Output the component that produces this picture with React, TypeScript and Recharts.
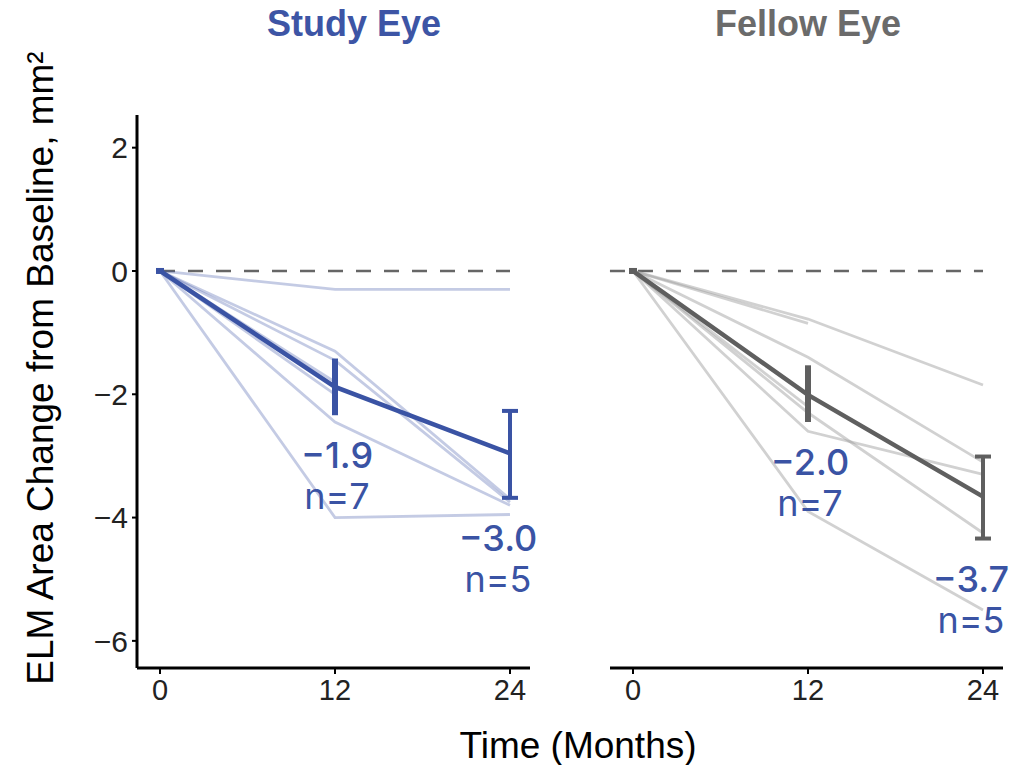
import React from "react";
import { LineChart, Line, XAxis, YAxis, ReferenceLine, ErrorBar } from "recharts";

const months = [0, 12, 24];

// Study eye individual subjects (change from baseline, mm²)
const studySubjects: (number | null)[][] = [
  [0, -0.3, -0.3],
  [0, -1.3, -3.7],
  [0, -1.45, -3.75],
  [0, -2.0, null],
  [0, -2.45, -3.8],
  [0, -4.0, -3.95],
  [0, -1.8, null],
];
const studyMean = [0, -1.88, -2.96];
const studyLow: (number | null)[] = [null, -2.34, -3.68];
const studyHigh: (number | null)[] = [null, -1.42, -2.27];
const studyN: (number | null)[] = [null, 7, 5];

// Fellow eye individual subjects
const fellowSubjects: (number | null)[][] = [
  [0, -0.78, -1.85],
  [0, -0.85, null],
  [0, -1.4, -3.1],
  [0, -2.3, -4.25],
  [0, -2.6, -3.3],
  [0, -3.9, -5.5],
  [0, -2.2, null],
];
const fellowMean = [0, -2.01, -3.66];
const fellowLow: (number | null)[] = [null, -2.45, -4.34];
const fellowHigh: (number | null)[] = [null, -1.53, -3.01];
const fellowN: (number | null)[] = [null, 7, 5];

const yTicks = [-6, -4, -2, 0, 2];
const xTicks = [0, 12, 24];

const BLUE = "#3A53A4";
const GRAY = "#5f5f5f";
const FONT = "'Liberation Sans', Arial, sans-serif";
const ANNO_FONT = "Inter, 'Noto Sans', sans-serif";

const minus = (v: number | string) => String(v).replace("-", "\u2212");

function buildRows(subjects: (number | null)[][], mean: number[], low: (number | null)[], high: (number | null)[], n: (number | null)[]) {
  return months.map((m, i) => {
    const row: any = { month: m, mean: mean[i], low: low[i], n: n[i] };
    subjects.forEach((s, k) => {
      row[`s${k}`] = s[i];
    });
    const lo = low[i];
    const hi = high[i];
    const err = lo == null || hi == null ? null : [mean[i] - lo, hi - mean[i]];
    row.errMid = i === 1 ? err : null;
    row.errEnd = i === 2 ? err : null;
    return row;
  });
}

const studyRows = buildRows(studySubjects, studyMean, studyLow, studyHigh, studyN);
const fellowRows = buildRows(fellowSubjects, fellowMean, fellowLow, fellowHigh, fellowN);

const originMarker = (color: string) => (props: any) => {
  const { cx, cy, index } = props;
  if (index !== 0 || cx == null || cy == null) return <g key={`om-${index}`} />;
  return <rect key={`om-${index}`} x={cx - 4} y={cy - 3} width={8} height={6} fill={color} />;
};

const annoDot = (props: any) => {
  const { cx, cy, index, payload } = props;
  if (cx == null || cy == null || payload == null || payload.low == null) return <g key={`an-${index}`} />;
  const dx = index === 2 ? -12 : 2;
  return (
    <g key={`an-${index}`}>
      <text x={cx + dx} y={cy + 40} textAnchor="middle" dominantBaseline="central" fill={BLUE} fontFamily={ANNO_FONT} fontWeight={500} fontSize={36}>
        {minus(payload.mean.toFixed(1))}
      </text>
      <text x={cx + dx} y={cy + 81} textAnchor="middle" dominantBaseline="central" fill={BLUE} fontFamily={ANNO_FONT} fontWeight={400} fontSize={36}>
        {`n=${payload.n}`}
      </text>
    </g>
  );
};

const yDomain: [number, number] = [-6.44, 2.53];

function Panel({ rows, color, subjColor, subjOpacity, showY, width, margin, refStart }: any) {
  return (
    <LineChart width={width} height={765} data={rows} margin={margin}>
      <XAxis
        dataKey="month"
        type="number"
        domain={[0, 24]}
        ticks={xTicks}
        padding={{ left: 23, right: 20 }}
        axisLine={{ stroke: "#000", strokeWidth: 3 }}
        tickLine={{ stroke: "#000", strokeWidth: 2 }}
        tickSize={6}
        tickMargin={5}
        height={40}
        tick={{ fontSize: 29, fill: "#222", fontFamily: FONT }}
      />
      <YAxis
        hide={!showY}
        type="number"
        domain={yDomain}
        ticks={yTicks}
        width={60}
        axisLine={{ stroke: "#000", strokeWidth: 3 }}
        tickLine={{ stroke: "#000", strokeWidth: 2 }}
        tickSize={5}
        tickMargin={4}
        tickFormatter={(v: number) => minus(v)}
        tick={{ fontSize: 30, fill: "#222", fontFamily: FONT }}
      />
      <ReferenceLine
        segment={[{ x: refStart, y: 0 }, { x: 24, y: 0 }]}
        stroke="#666"
        strokeWidth={2.5}
        strokeDasharray="15 13"
        ifOverflow="visible"
      />
      {Object.keys(rows[0])
        .filter((k) => /^s\d+$/.test(k))
        .map((k) => (
          <Line
            key={k}
            dataKey={k}
            stroke={subjColor}
            strokeOpacity={subjOpacity}
            strokeWidth={2.8}
            dot={false}
            activeDot={false}
            isAnimationActive={false}
            connectNulls={false}
          />
        ))}
      <Line dataKey="mean" stroke={color} strokeWidth={4.5} dot={originMarker(color)} activeDot={false} isAnimationActive={false}>
        <ErrorBar dataKey="errMid" width={0} strokeWidth={6} stroke={color} direction="y" />
        <ErrorBar dataKey="errEnd" width={8} strokeWidth={4} stroke={color} direction="y" />
      </Line>
      <Line dataKey="low" stroke="none" dot={annoDot} activeDot={false} isAnimationActive={false} />
    </LineChart>
  );
}

export default function App() {
  return (
    <div style={{ position: "absolute", left: 0, top: 0, width: 1025, height: 765, background: "#fff", overflow: "hidden" }}>
      <div style={{ position: "absolute", left: 0, top: 0 }}>
        <Panel
          rows={studyRows}
          color={BLUE}
          subjColor={BLUE}
          subjOpacity={0.3}
          showY
          width={545}
          margin={{ top: 115, right: 15, bottom: 57, left: 77 }}
          refStart={0}
        />
      </div>
      <div style={{ position: "absolute", left: 545, top: 0 }}>
        <Panel
          rows={fellowRows}
          color={GRAY}
          subjColor="#9a9a9a"
          subjOpacity={0.45}
          showY={false}
          width={480}
          margin={{ top: 115, right: 22, bottom: 57, left: 65 }}
          refStart={-1.58}
        />
      </div>
      <svg width={1025} height={765} style={{ position: "absolute", left: 0, top: 0, pointerEvents: "none" }}>
        <text x={354} y={36} textAnchor="middle" fill="#3D55A5" fontFamily={FONT} fontWeight={700} fontSize={36}>
          Study Eye
        </text>
        <text x={808} y={36} textAnchor="middle" fill="#6b6b6b" fontFamily={FONT} fontWeight={700} fontSize={36}>
          Fellow Eye
        </text>
        <text x={578} y={758} textAnchor="middle" fill="#000" fontFamily={FONT} fontSize={37}>
          Time (Months)
        </text>
        <text transform="translate(53,368) rotate(-90)" textAnchor="middle" fill="#000" fontFamily={FONT} fontSize={37}>
          ELM Area Change from Baseline, mm²
        </text>
      </svg>
    </div>
  );
}
